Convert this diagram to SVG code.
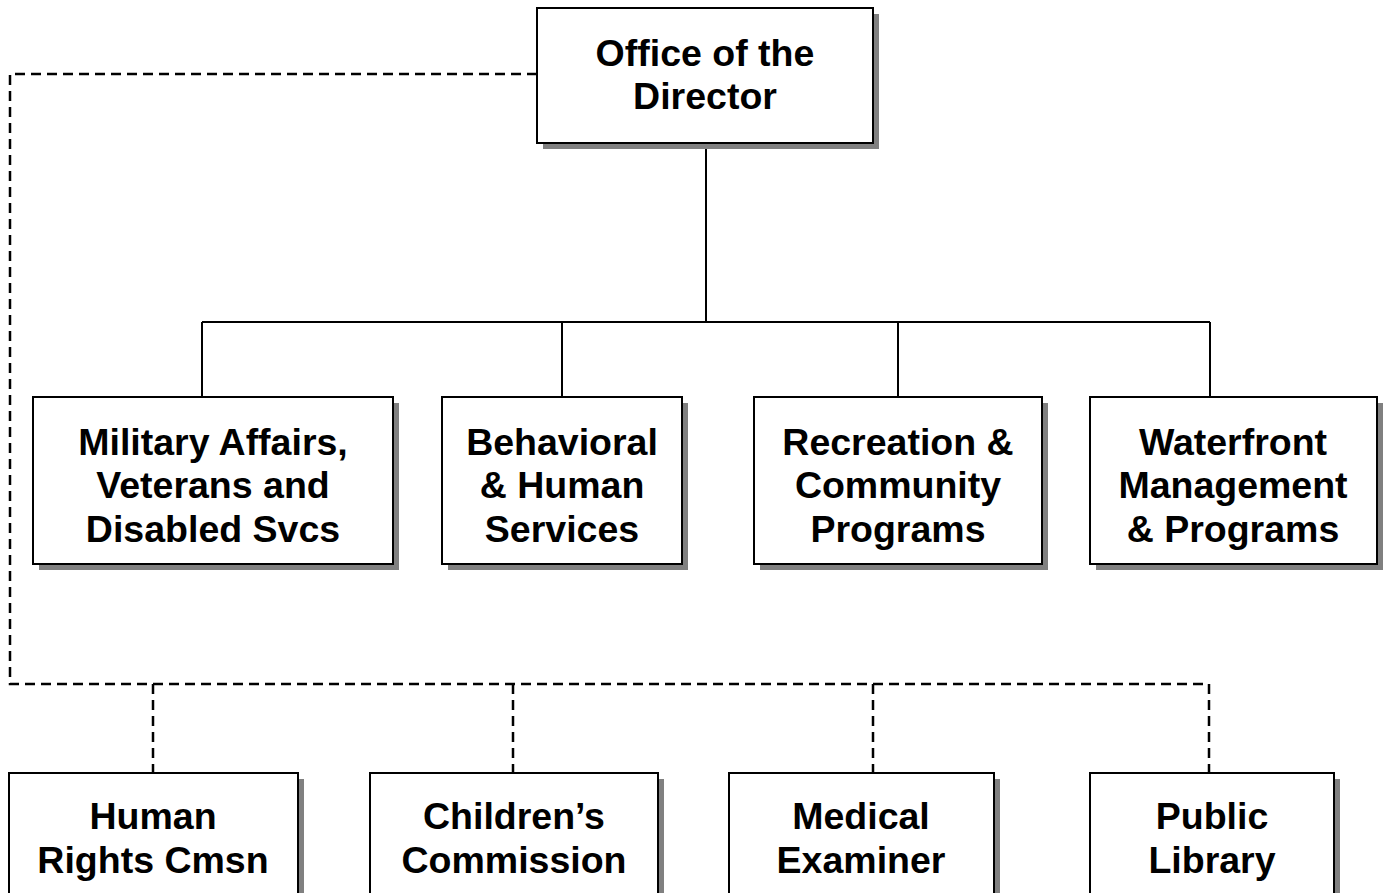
<svg xmlns="http://www.w3.org/2000/svg" width="1384" height="893" viewBox="0 0 1384 893">
  <style>
    .shadow { fill: #808080; stroke: none; }
    .box { fill: #ffffff; stroke: #000000; stroke-width: 2; }
    .label { font-family: "Liberation Sans", Arial, sans-serif; font-weight: bold; font-size: 37.5px; fill: #000000; text-anchor: middle; }
    .solid { fill: none; stroke: #000000; stroke-width: 2; }
    .dashed { fill: none; stroke: #000000; stroke-width: 2.5; stroke-dasharray: 10 6; }
  </style>
  <rect width="1384" height="893" fill="#ffffff"/>

  <!-- reporting lines -->
  <g id="connectors">
    <path class="solid" d="M706 143 V322 M202 322 H1210 M202 322 V397 M562 322 V397 M898 322 V397 M1210 322 V397"/>
    <path class="dashed" d="M537 74 H10 V684 H1209"/>
    <path class="dashed" d="M153 684 V773 M513 684 V773 M873 684 V773 M1209 684 V773"/>
  </g>

  <g id="office-director">
    <rect class="shadow" x="543" y="14" width="336" height="135"/>
    <rect class="box" x="537" y="8" width="336" height="135"/>
    <text class="label" x="705" y="66">Office of the</text>
    <text class="label" x="705" y="109">Director</text>
  </g>

  <g id="military-affairs">
    <rect class="shadow" x="39" y="403" width="360" height="167"/>
    <rect class="box" x="33" y="397" width="360" height="167"/>
    <text class="label" x="213" y="455">Military Affairs,</text>
    <text class="label" x="213" y="498">Veterans and</text>
    <text class="label" x="213" y="542">Disabled Svcs</text>
  </g>

  <g id="behavioral-human">
    <rect class="shadow" x="448" y="403" width="240" height="167"/>
    <rect class="box" x="442" y="397" width="240" height="167"/>
    <text class="label" x="562" y="455">Behavioral</text>
    <text class="label" x="562" y="498">&amp; Human</text>
    <text class="label" x="562" y="542">Services</text>
  </g>

  <g id="recreation-community">
    <rect class="shadow" x="760" y="403" width="288" height="167"/>
    <rect class="box" x="754" y="397" width="288" height="167"/>
    <text class="label" x="898" y="455">Recreation &amp;</text>
    <text class="label" x="898" y="498">Community</text>
    <text class="label" x="898" y="542">Programs</text>
  </g>

  <g id="waterfront-management">
    <rect class="shadow" x="1096" y="403" width="287" height="167"/>
    <rect class="box" x="1090" y="397" width="287" height="167"/>
    <text class="label" x="1233" y="455">Waterfront</text>
    <text class="label" x="1233" y="498">Management</text>
    <text class="label" x="1233" y="542">&amp; Programs</text>
  </g>

  <g id="human-rights">
    <rect class="shadow" x="15" y="779" width="289" height="140"/>
    <rect class="box" x="9" y="773" width="289" height="140"/>
    <text class="label" x="153" y="829">Human</text>
    <text class="label" x="153" y="873">Rights Cmsn</text>
  </g>

  <g id="childrens-commission">
    <rect class="shadow" x="376" y="779" width="288" height="140"/>
    <rect class="box" x="370" y="773" width="288" height="140"/>
    <text class="label" x="514" y="829">Children’s</text>
    <text class="label" x="514" y="873">Commission</text>
  </g>

  <g id="medical-examiner">
    <rect class="shadow" x="735" y="779" width="265" height="140"/>
    <rect class="box" x="729" y="773" width="265" height="140"/>
    <text class="label" x="861" y="829">Medical</text>
    <text class="label" x="861" y="873">Examiner</text>
  </g>

  <g id="public-library">
    <rect class="shadow" x="1096" y="779" width="244" height="140"/>
    <rect class="box" x="1090" y="773" width="244" height="140"/>
    <text class="label" x="1212" y="829">Public</text>
    <text class="label" x="1212" y="873">Library</text>
  </g>
</svg>
